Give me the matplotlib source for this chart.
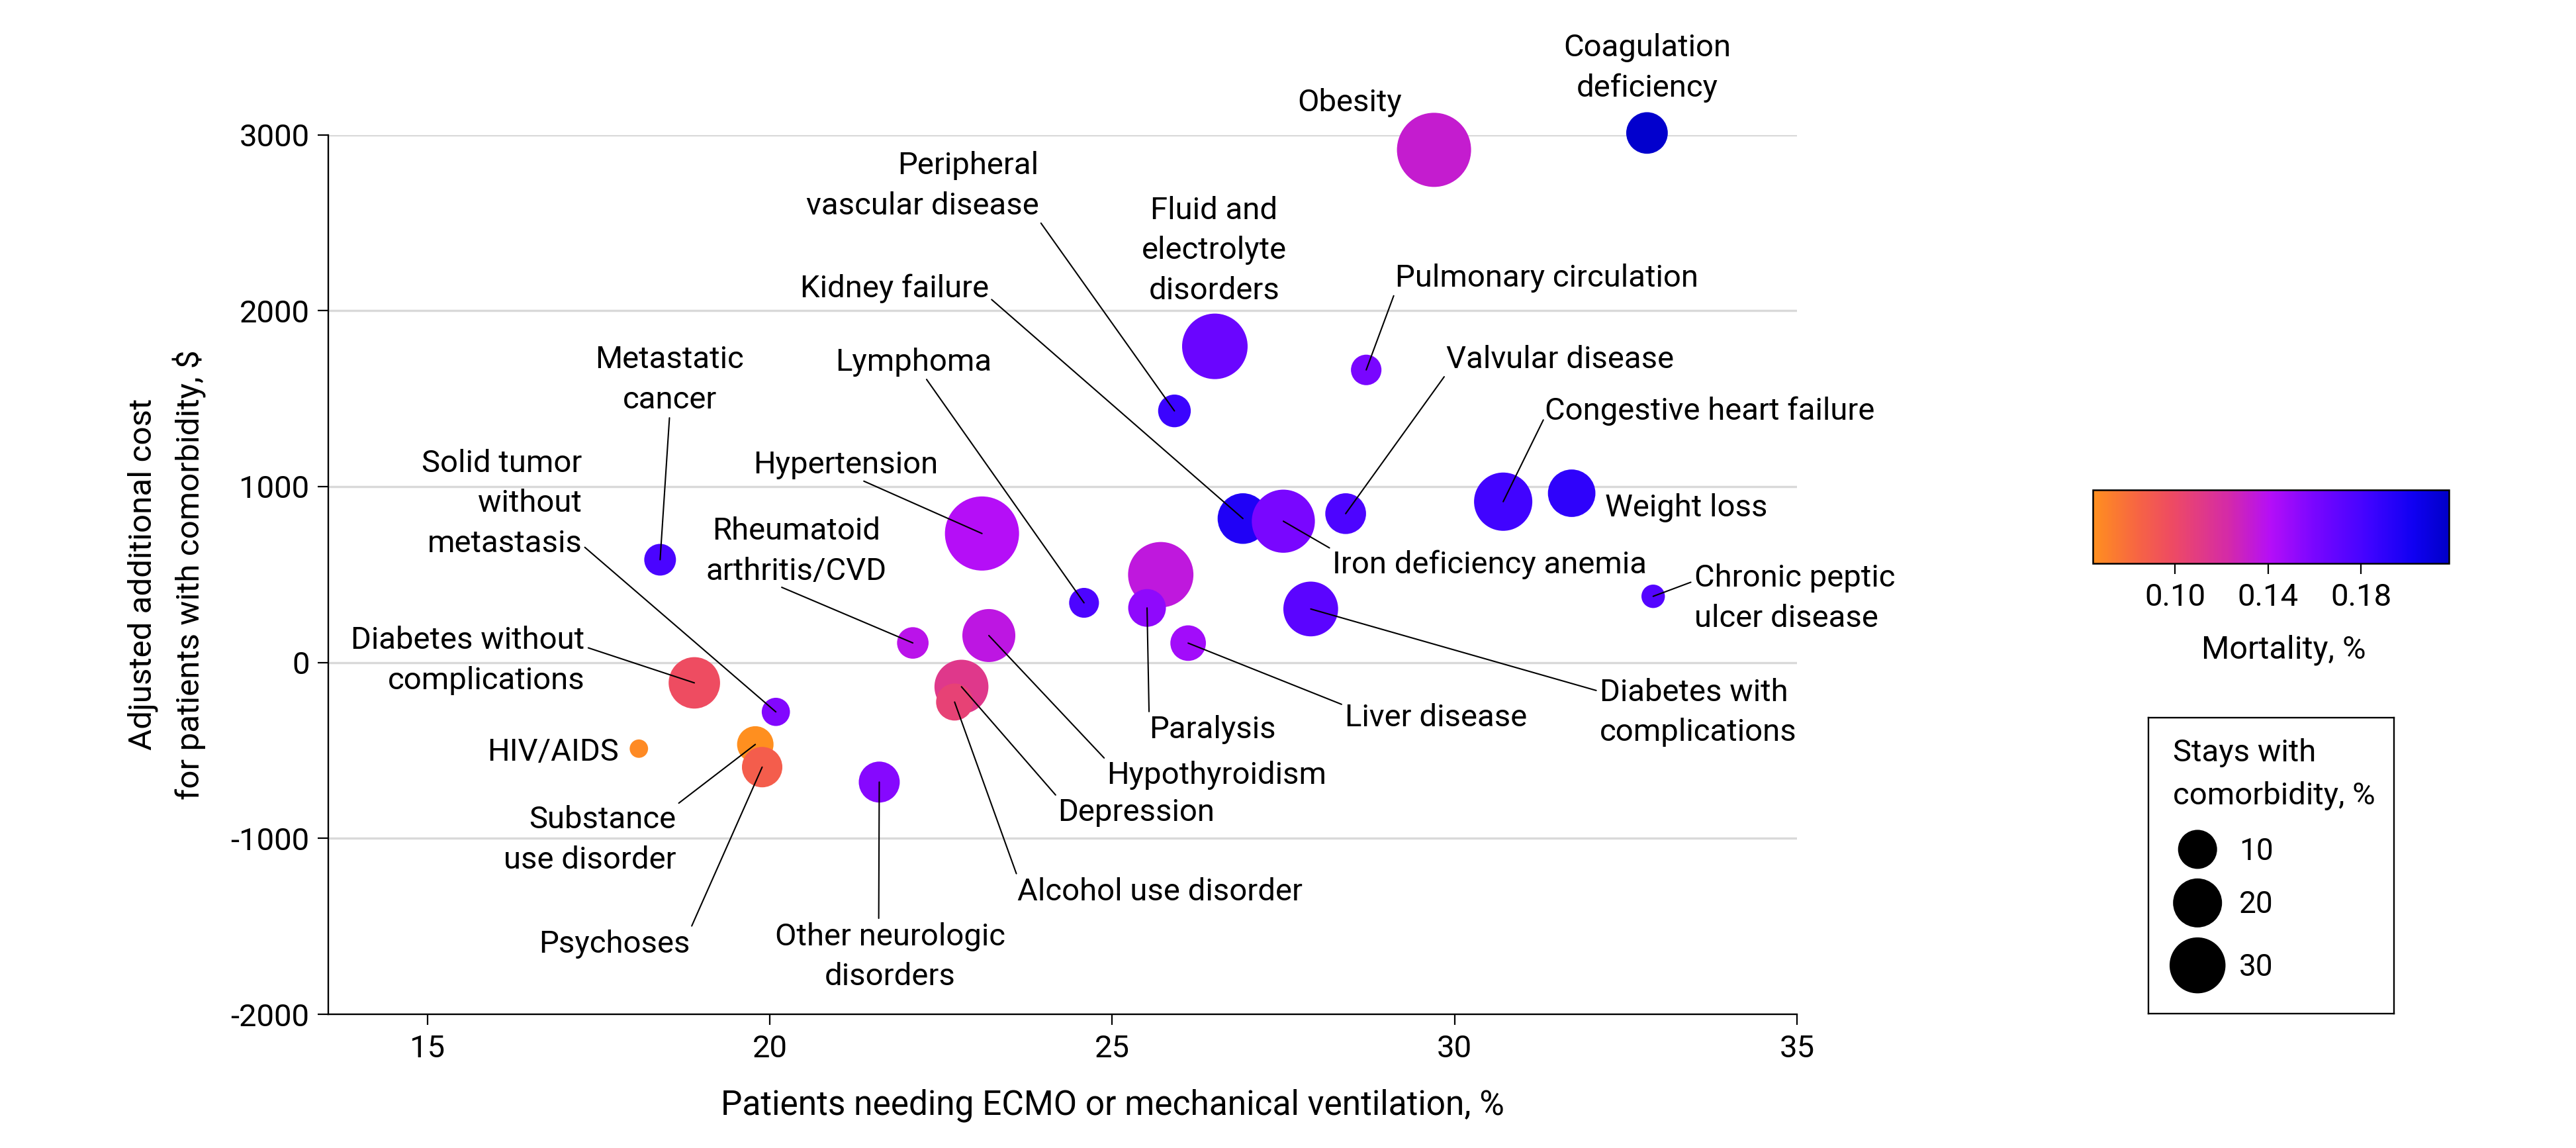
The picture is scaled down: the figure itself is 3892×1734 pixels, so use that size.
import numpy as np
import matplotlib
matplotlib.use('Agg')
import matplotlib.pyplot as plt
from matplotlib.colors import LinearSegmentedColormap, Normalize

plt.rcParams['font.family'] = ['Roboto', 'DejaVu Sans']
plt.rcParams['axes.unicode_minus'] = False

# Data (one entry per comorbidity, '' = bubble without label)
names = ['HIV/AIDS', 'Diabetes without\ncomplications', 'Metastatic\ncancer',
         'Solid tumor\nwithout\nmetastasis', 'Substance\nuse disorder', 'Psychoses',
         'Other neurologic\ndisorders', 'Rheumatoid\narthritis/CVD', 'Hypertension',
         'Hypothyroidism', 'Depression', 'Alcohol use disorder', 'Lymphoma', '',
         'Paralysis', 'Liver disease', 'Peripheral\nvascular disease',
         'Fluid and\nelectrolyte\ndisorders', 'Kidney failure', 'Iron deficiency anemia',
         'Valvular disease', 'Pulmonary circulation', 'Diabetes with\ncomplications',
         'Obesity', 'Congestive heart failure', 'Weight loss',
         'Chronic peptic\nulcer disease', 'Coagulation\ndeficiency']
ventilation = [18.09, 18.90, 18.40, 20.09, 19.79, 19.89, 21.60, 22.09, 23.10, 23.20,
               22.80, 22.70, 24.59, 25.71, 25.51, 26.11, 25.91, 26.50, 26.91, 27.50,
               28.41, 28.71, 27.90, 29.70, 30.71, 31.71, 32.90, 32.81]
cost = [-490, -116, 584, -281, -466, -595, -680, 111, 733, 153,
        -138, -225, 339, 499, 310, 110, 1430, 1797, 818, 803,
        846, 1663, 304, 2914, 914, 962, 376, 3010]
stays = [1.0, 23.2, 5.3, 3.7, 8.1, 11.1, 11.6, 5.2, 71, 25.4,
         26.9, 8.5, 4.4, 48.3, 9.0, 7.5, 5.8, 48.7, 22.1, 43.4,
         11.4, 4.7, 28.1, 71, 34, 18.2, 2.1, 12.1]
mortality = [0.067, 0.098, 0.179, 0.157, 0.0646, 0.088, 0.156, 0.138, 0.141, 0.136,
             0.113, 0.105, 0.178, 0.135, 0.153, 0.147, 0.185, 0.166, 0.196, 0.160,
             0.178, 0.160, 0.172, 0.132, 0.183, 0.190, 0.175, 0.216]

mort_ticks = [0.10, 0.14, 0.18]
mort_tick_labels = ['0.10', '0.14', '0.18']
legend_stays = [10, 20, 30]

# label placement: text x, text y, alignment, where the leader line leaves the text
label_pos = {
    'HIV/AIDS': (17.80, -510, 'right', None),
    'Diabetes without\ncomplications': (17.30, 11, 'right', (1, 0.7)),
    'Metastatic\ncancer': (18.54, 1608, 'center', (0.5, 0)),
    'Solid tumor\nwithout\nmetastasis': (17.26, 904, 'right', (1, 0.12)),
    'Substance\nuse disorder': (18.63, -1009, 'right', (1, 1)),
    'Psychoses': (18.84, -1600, 'right', (1, 1)),
    'Other neurologic\ndisorders': (21.76, -1672, 'center', (0.45, 1)),
    'Rheumatoid\narthritis/CVD': (20.39, 632, 'center', (0.4, 0)),
    'Hypertension': (21.11, 1122, 'center', (0.58, 0)),
    'Hypothyroidism': (24.92, -641, 'left', (0, 1)),
    'Depression': (24.21, -852, 'left', (0, 1)),
    'Alcohol use disorder': (23.62, -1303, 'left', (0, 1)),
    'Lymphoma': (22.10, 1709, 'center', (0.57, 0)),
    'Paralysis': (25.54, -383, 'left', (0, 1)),
    'Liver disease': (28.40, -312, 'left', (0, 0.9)),
    'Peripheral\nvascular disease': (23.93, 2711, 'right', (1, 0)),
    'Fluid and\nelectrolyte\ndisorders': (26.49, 2342, 'center', None),
    'Kidney failure': (23.20, 2127, 'right', (1, 0.2)),
    'Iron deficiency anemia': (28.22, 557, 'left', (0, 1)),
    'Valvular disease': (29.88, 1724, 'left', (0, 0)),
    'Pulmonary circulation': (29.13, 2187, 'left', (0, 0)),
    'Diabetes with\ncomplications': (32.12, -283, 'left', (0, 0.8)),
    'Obesity': (28.47, 3181, 'center', None),
    'Congestive heart failure': (31.32, 1431, 'left', (0, 0.3)),
    'Weight loss': (32.20, 881, 'left', None),
    'Chronic peptic\nulcer disease': (33.50, 365, 'left', (0, 0.75)),
    'Coagulation\ndeficiency': (32.81, 3379, 'center', None),
}

DPI = 200


def bubble_area(v):
    # diameter in pixels grows like stays^0.327 (fits the 10/20/30 legend)
    d_px = 59 * (np.asarray(v, dtype=float) / 10) ** 0.327
    return (d_px * 72 / DPI) ** 2


cmap = LinearSegmentedColormap.from_list('mort', [
    (0.0, '#FF8F1F'), (0.13, '#F66345'), (0.22, '#EE4B62'), (0.38, '#D42AA8'),
    (0.5, '#B40EF8'), (0.62, '#7A06FF'), (0.78, '#3E03FF'), (0.9, '#1000F2'),
    (1.0, '#0000C8')])
norm = Normalize(0.0646, 0.2178)

fig = plt.figure(figsize=(3892 / DPI, 1734 / DPI), dpi=DPI)
ax = fig.add_axes([0.12744, 0.11649, 0.57015, 0.76615])

sc = ax.scatter(ventilation, cost, s=bubble_area(stays), c=mortality, cmap=cmap,
                norm=norm, linewidths=0, zorder=3, clip_on=False)

for name, x, y in zip(names, ventilation, cost):
    if not name:
        continue
    tx, ty, ha, relpos = label_pos[name]
    if relpos is None:
        ax.text(tx, ty, name, ha=ha, va='center', fontsize=17, linespacing=1.47,
                zorder=5, clip_on=False)
    else:
        ax.annotate(name, xy=(x, y), xytext=(tx, ty), ha=ha, va='center',
                    fontsize=17, linespacing=1.47, zorder=5, annotation_clip=False,
                    arrowprops=dict(arrowstyle='-', color='black', lw=0.75,
                                    relpos=relpos, patchA=None, shrinkA=2, shrinkB=0))

ax.set_xlim(13.555, 35)
ax.set_ylim(-2000, 3000)
ax.set_xticks([15, 20, 25, 30, 35])
ax.set_yticks([-2000, -1000, 0, 1000, 2000, 3000])
ax.yaxis.grid(True, color='#D9D9D9', lw=1.2)
ax.set_axisbelow(True)
for side in ['top', 'right']:
    ax.spines[side].set_visible(False)
for side in ['left', 'bottom']:
    ax.spines[side].set_linewidth(0.85)
ax.tick_params(axis='both', length=5.8, width=0.8, labelsize=17)
ax.tick_params(axis='x', pad=5)
ax.tick_params(axis='y', pad=4.5)

ax.set_xlabel('Patients needing ECMO or mechanical ventilation, %', fontsize=18.5)
ax.xaxis.set_label_coords(0.534, -0.085)
ax.set_ylabel('Adjusted additional cost\nfor patients with comorbidity, \\$', fontsize=17.8,
              linespacing=1.55)
ax.yaxis.label.set_verticalalignment('center')
ax.yaxis.set_label_coords(-0.110, 0.5)

# colour bar
cax = fig.add_axes([0.81234, 0.50923, 0.13844, 0.06401])
cb = fig.colorbar(sc, cax=cax, orientation='horizontal', ticks=mort_ticks)
cb.ax.set_xticklabels(mort_tick_labels)
cb.outline.set_linewidth(0.9)
cax.tick_params(length=5.6, width=0.8, labelsize=17, pad=5)
fig.text(3450 / 3892, 1 - 982 / 1734, 'Mortality, %', ha='center', va='center', fontsize=17.5)

# size legend
lax = fig.add_axes([0.83402, 0.11707, 0.09532, 0.25779])
lax.set_xlim(0, 1)
lax.set_ylim(0, 1)
lax.set_xticks([])
lax.set_yticks([])
for sp in lax.spines.values():
    sp.set_linewidth(0.85)
lax.text(0.1, 0.93, 'Stays with\ncomorbidity, %', ha='left', va='top', fontsize=17,
         linespacing=1.6)
leg_y = [0.555, 0.374, 0.163]
lax.scatter([0.2] * 3, leg_y, s=bubble_area(legend_stays), color='black', linewidths=0)
for yv, lab in zip([0.519, 0.340, 0.1275], legend_stays):
    lax.text(0.37, yv, str(lab), ha='left', va='baseline', fontsize=16.5)

fig.savefig('out.png', dpi=DPI)
